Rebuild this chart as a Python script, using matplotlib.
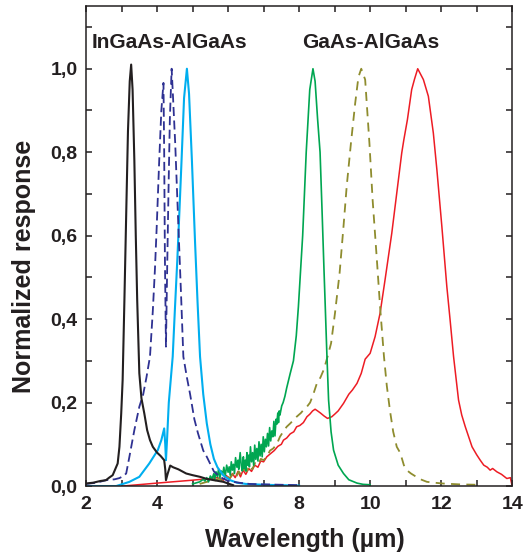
import numpy as np
import matplotlib
matplotlib.use("Agg")
import matplotlib.pyplot as plt
from matplotlib.ticker import MultipleLocator, FuncFormatter

plt.rcParams['font.family'] = ['Liberation Sans', 'DejaVu Sans']
plt.rcParams['font.weight'] = 'bold'

# InGaAs-AlGaAs detectors
bk_x = [2.0, 2.2, 2.4, 2.56, 2.65, 2.75, 2.82, 2.89, 2.94, 2.99, 3.03, 3.08, 3.13, 3.18, 3.23, 3.27,
        3.31, 3.36, 3.40, 3.44, 3.50, 3.56, 3.64, 3.72, 3.80, 3.88, 4.0, 4.1, 4.2, 4.23, 4.25, 4.3,
        4.37, 4.45, 4.6, 4.82, 5.0, 5.21, 5.4, 5.6, 5.87, 6.0, 6.14]
bk_y = [0.006, 0.008, 0.012, 0.014, 0.02, 0.026, 0.04, 0.054, 0.094, 0.174, 0.254, 0.446, 0.65, 0.85, 0.97, 1.01,
        0.95, 0.78, 0.6, 0.446, 0.27, 0.21, 0.174, 0.134, 0.11, 0.094, 0.08, 0.072, 0.062, 0.04, 0.014, 0.03,
        0.049, 0.045, 0.04, 0.03, 0.026, 0.022, 0.017, 0.014, 0.01, 0.006, 0.002]

nv_x = [2.0, 2.3, 2.56, 2.8, 2.94, 3.05, 3.13, 3.22, 3.36, 3.5, 3.61, 3.7, 3.8, 3.88, 3.94, 3.99, 4.06,
        4.12, 4.18, 4.2, 4.22, 4.25, 4.28, 4.32, 4.36, 4.41, 4.45, 4.51, 4.6, 4.67, 4.74, 4.84, 4.93,
        5.05, 5.15, 5.3, 5.4, 5.6, 5.77, 6.0, 6.3, 6.6, 7.0, 7.5, 8.0]
nv_y = [0.005, 0.008, 0.014, 0.016, 0.019, 0.024, 0.03, 0.07, 0.134, 0.19, 0.22, 0.26, 0.31, 0.42, 0.52, 0.622, 0.78,
        0.9, 0.966, 0.8, 0.55, 0.334, 0.5, 0.7, 0.88, 1.0, 0.93, 0.822, 0.622, 0.47, 0.31, 0.26, 0.22,
        0.16, 0.127, 0.085, 0.07, 0.035, 0.022, 0.012, 0.008, 0.005, 0.004, 0.003, 0.002]

cy_x = [2.0, 2.85, 3.0, 3.22, 3.5, 3.78, 4.02, 4.12, 4.2, 4.23, 4.25, 4.28, 4.33, 4.39, 4.44, 4.5, 4.57,
        4.63, 4.69, 4.76, 4.84, 4.9, 4.98, 5.07, 5.14, 5.21, 5.3, 5.4, 5.5, 5.6, 5.7, 5.87, 6.06,
        6.25, 6.5, 7.0, 7.5, 8.0]
cy_y = [0.0, 0.0, 0.004, 0.01, 0.022, 0.054, 0.086, 0.11, 0.138, 0.1, 0.062, 0.11, 0.2, 0.26, 0.31, 0.42, 0.542,
        0.66, 0.782, 0.93, 1.0, 0.94, 0.782, 0.583, 0.44, 0.31, 0.22, 0.15, 0.1, 0.065, 0.045, 0.025, 0.014,
        0.008, 0.005, 0.003, 0.002, 0.001]

# GaAs-AlGaAs detectors
gr_x = [5.0, 5.2, 5.3, 5.35, 5.4, 5.45, 5.5, 5.55, 5.6, 5.62, 5.66, 5.7, 5.73, 5.77, 5.81, 5.85, 5.88,
        5.92, 5.96, 6.0, 6.03, 6.06, 6.09, 6.12, 6.15, 6.18, 6.21, 6.25, 6.28, 6.3, 6.34, 6.37, 6.4,
        6.43, 6.45, 6.48, 6.5, 6.53, 6.55, 6.58, 6.6, 6.63, 6.66, 6.69, 6.72, 6.75, 6.78, 6.81, 6.84,
        6.87, 6.9, 6.93, 6.96, 6.99, 7.02, 7.05, 7.08, 7.11, 7.14, 7.17, 7.2, 7.23, 7.26, 7.29, 7.32,
        7.35, 7.37, 7.4, 7.42, 7.44, 7.46, 7.51, 7.55, 7.6, 7.65, 7.75, 7.84, 7.92, 7.98, 8.1, 8.2,
        8.3, 8.39, 8.45, 8.52, 8.59, 8.65, 8.7, 8.73, 8.78, 8.83, 8.9, 8.97, 9.1, 9.25, 9.4, 9.63,
        9.8, 10.0]
gr_y = [0.005, 0.01, 0.016, 0.012, 0.02, 0.01, 0.024, 0.018, 0.03, 0.015, 0.034, 0.022, 0.04, 0.02, 0.036, 0.028, 0.045,
        0.024, 0.05, 0.033, 0.046, 0.026, 0.058, 0.038, 0.052, 0.03, 0.068, 0.045, 0.062, 0.04, 0.08, 0.05, 0.036,
        0.07, 0.042, 0.062, 0.036, 0.08, 0.05, 0.074, 0.046, 0.094, 0.058, 0.08, 0.05, 0.098, 0.064, 0.09, 0.06,
        0.106, 0.072, 0.1, 0.07, 0.118, 0.082, 0.112, 0.094, 0.126, 0.096, 0.14, 0.108, 0.132, 0.118, 0.155, 0.12,
        0.16, 0.148, 0.175, 0.152, 0.18, 0.17, 0.192, 0.2, 0.215, 0.235, 0.27, 0.3, 0.36, 0.43, 0.6, 0.8,
        0.95, 1.0, 0.97, 0.88, 0.8, 0.65, 0.52, 0.446, 0.32, 0.206, 0.13, 0.086, 0.05, 0.03, 0.015, 0.007,
        0.004, 0.003]

ol_x = [5.2, 5.4, 5.6, 5.75, 5.85, 5.95, 6.06, 6.15, 6.22, 6.3, 6.38, 6.45, 6.53, 6.6, 6.68, 6.76, 6.84,
        6.92, 7.0, 7.09, 7.18, 7.27, 7.37, 7.46, 7.55, 7.65, 7.75, 7.84, 7.93, 8.05, 8.15, 8.22, 8.31,
        8.4, 8.5, 8.6, 8.7, 8.8, 8.9, 9.01, 9.14, 9.25, 9.34, 9.46, 9.58, 9.67, 9.75, 9.86, 9.98, 10.07,
        10.19, 10.28, 10.39, 10.47, 10.56, 10.65, 10.75, 10.85, 10.95, 11.03, 11.15, 11.3, 11.45,
        11.6, 11.8, 12.05, 12.5, 13.0]
ol_y = [0.005, 0.01, 0.012, 0.018, 0.012, 0.022, 0.02, 0.03, 0.02, 0.035, 0.025, 0.04, 0.035, 0.05, 0.04, 0.055, 0.05,
        0.065, 0.062, 0.07, 0.085, 0.09, 0.1, 0.118, 0.13, 0.142, 0.15, 0.158, 0.166, 0.175, 0.185, 0.19, 0.2,
        0.22, 0.246, 0.26, 0.28, 0.31, 0.342, 0.414, 0.51, 0.622, 0.718, 0.822, 0.918, 0.98, 1.0, 0.974, 0.822, 0.686,
        0.542, 0.43, 0.31, 0.24, 0.18, 0.13, 0.094, 0.079, 0.05, 0.038, 0.03, 0.022, 0.015,
        0.01, 0.008, 0.006, 0.004, 0.003]

rd_x = [3.04, 4.0, 5.0, 5.5, 5.7, 5.87, 5.95, 6.05, 6.12, 6.2, 6.28, 6.35, 6.42, 6.5, 6.58, 6.66, 6.75,
        6.84, 6.92, 7.0, 7.09, 7.2, 7.3, 7.4, 7.5, 7.56, 7.65, 7.75, 7.85, 7.93, 8.02, 8.12, 8.22, 8.3,
        8.38, 8.45, 8.52, 8.6, 8.7, 8.8, 8.92, 9.0, 9.1, 9.25, 9.4, 9.5, 9.63, 9.75, 9.86, 10.0, 10.14,
        10.28, 10.42, 10.61, 10.75, 10.89, 10.95, 11.05, 11.17, 11.25, 11.34, 11.5, 11.64, 11.78, 11.88,
        12.02, 12.16, 12.25, 12.35, 12.49, 12.58, 12.68, 12.87, 13.0, 13.1, 13.2, 13.3, 13.38, 13.45,
        13.57, 13.7, 13.85, 13.95, 14.0]
rd_y = [0.0, 0.007, 0.014, 0.018, 0.02, 0.014, 0.025, 0.018, 0.03, 0.02, 0.035, 0.022, 0.038, 0.028, 0.042, 0.035, 0.05,
        0.045, 0.06, 0.058, 0.07, 0.078, 0.085, 0.095, 0.1, 0.11, 0.115, 0.125, 0.13, 0.142, 0.145, 0.152, 0.166, 0.172,
        0.18, 0.184, 0.18, 0.175, 0.168, 0.162, 0.166, 0.172, 0.18, 0.198, 0.22, 0.23, 0.246, 0.27, 0.304, 0.318, 0.358,
        0.414, 0.494, 0.606, 0.702, 0.798, 0.83, 0.878, 0.95, 0.975, 1.0, 0.974, 0.934, 0.846, 0.758,
        0.622, 0.478, 0.4, 0.31, 0.206, 0.17, 0.142, 0.094, 0.075, 0.062, 0.05, 0.045, 0.038, 0.042,
        0.034, 0.028, 0.018, 0.02, 0.0]

fig = plt.figure(figsize=(5.28, 5.58), dpi=100)
ax = fig.add_axes([0.163, 0.129, 0.807, 0.860])

ax.plot(rd_x, rd_y, color='#ED1C24', lw=1.1)
ax.plot(ol_x, ol_y, color='#8E8C2E', lw=1.3, dashes=(5, 3.5))
ax.plot(gr_x, gr_y, color='#00A651', lw=1.2)
ax.plot(cy_x, cy_y, color='#00AEEF', lw=1.5)
ax.plot(nv_x, nv_y, color='#2E3192', lw=1.3, dashes=(5, 2.5))
ax.plot(bk_x, bk_y, color='#231F20', lw=1.5)

ax.text(0.014, 0.925, 'InGaAs-AlGaAs', transform=ax.transAxes, fontsize=15,
        fontweight='bold', color='#231F20', va='center', ha='left')
ax.text(0.507, 0.925, 'GaAs-AlGaAs', transform=ax.transAxes, fontsize=15,
        fontweight='bold', color='#231F20', va='center', ha='left')

ax.set_xlim(2, 14)
ax.set_ylim(0, 1.15)
ax.xaxis.set_major_locator(MultipleLocator(2))
ax.xaxis.set_minor_locator(MultipleLocator(1))
ax.yaxis.set_major_locator(MultipleLocator(0.2))
ax.yaxis.set_minor_locator(MultipleLocator(0.1))
ax.yaxis.set_major_formatter(FuncFormatter(lambda v, p: f'{v:.1f}'.replace('.', ',')))
ax.tick_params(which='both', direction='in', top=True, right=True, length=4.5, width=1.1,
               labelsize=14, colors='#231F20')
ax.tick_params(axis='x', pad=7)
ax.tick_params(axis='y', pad=6)
for lab in ax.get_xticklabels() + ax.get_yticklabels():
    lab.set_fontweight('bold')
for s in ax.spines.values():
    s.set_linewidth(1.1)
    s.set_color('#231F20')

ax.set_xlabel('Wavelength (\u00b5m)', fontsize=18, fontweight='bold', color='#231F20')
ax.set_ylabel('Normalized response', fontsize=18, fontweight='bold', color='#231F20')
ax.xaxis.set_label_coords(0.514, -0.088)
ax.yaxis.set_label_coords(-0.118, 0.458)

fig.savefig('out.png', dpi=100)
